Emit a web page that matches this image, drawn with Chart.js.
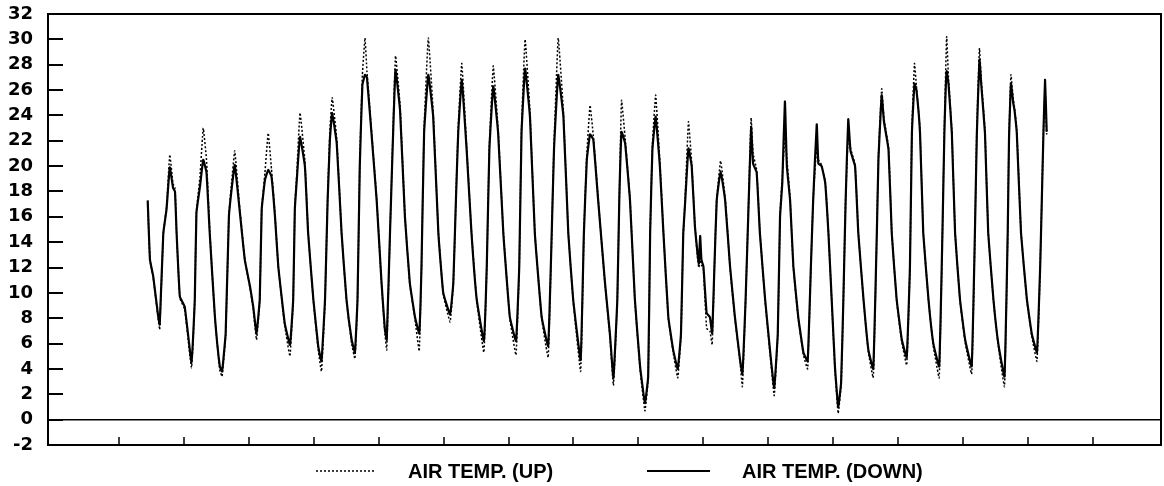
<!DOCTYPE html>
<html>
<head>
<meta charset="utf-8">
<title>Air temperature</title>
<script src="https://cdn.jsdelivr.net/npm/chart.js@4.4.1/dist/chart.umd.min.js"></script>
<style>
  html, body { margin: 0; padding: 0; background: #fff; }
  canvas { display: block; }
</style>
</head>
<body>
<canvas id="chart" width="1164" height="486"></canvas>
<script>
// Time in days, shared by both sensors
const timeDays = [
  2.89, 2.96, 3.06, 3.21, 3.26, 3.37, 3.47, 3.57, 3.67, 3.73, 3.78, 3.88, 4.03, 4.24,
  4.34, 4.39, 4.50, 4.60, 4.70, 4.80, 4.96, 5.11, 5.18,
  5.29, 5.39, 5.47, 5.57, 5.73, 5.88, 6.04, 6.14, 6.24,
  6.34, 6.40, 6.50, 6.60, 6.70, 6.81, 6.91, 7.11, 7.27,
  7.37, 7.42, 7.48, 7.58, 7.73, 7.83, 7.99, 8.14, 8.24,
  8.35, 8.43, 8.50, 8.57, 8.71, 8.86, 9.01, 9.17, 9.27,
  9.35, 9.42, 9.50, 9.58, 9.64, 9.78, 9.94, 10.09, 10.19, 10.25,
  10.35, 10.43, 10.52, 10.66, 10.81, 10.96, 11.12, 11.25,
  11.32, 11.40, 11.53, 11.68, 11.84, 11.99, 12.20,
  12.30, 12.38, 12.45, 12.56, 12.71, 12.86, 13.02, 13.24,
  13.33, 13.41, 13.53, 13.68, 13.84, 14.04, 14.23,
  14.33, 14.40, 14.51, 14.66, 14.81, 15.02, 15.22,
  15.33, 15.40, 15.53, 15.69, 15.84, 15.99, 16.22,
  16.32, 16.41, 16.51, 16.61, 16.76, 16.97, 17.12, 17.23,
  17.35, 17.41, 17.48, 17.59, 17.74, 17.89, 18.05, 18.20,
  18.30, 18.36, 18.43, 18.53, 18.66, 18.77, 18.92, 19.07, 19.21,
  19.31, 19.38, 19.43, 19.54, 19.64, 19.74, 19.82, 19.86, 19.90, 19.94, 20.00, 20.10, 20.20, 20.27,
  20.34, 20.41, 20.53, 20.67, 20.82, 20.97, 21.13, 21.20,
  21.30, 21.38, 21.47, 21.53, 21.64, 21.74, 21.90, 22.05, 22.18,
  22.29, 22.36, 22.43, 22.51, 22.57, 22.67, 22.77, 22.92, 23.08, 23.21,
  23.31, 23.38, 23.49, 23.54, 23.64, 23.75, 23.85, 23.95, 24.05, 24.15,
  24.24, 24.31, 24.38, 24.46, 24.53, 24.67, 24.77, 24.93, 25.08, 25.23,
  25.34, 25.39, 25.49, 25.56, 25.70, 25.80, 25.95, 26.11, 26.26,
  26.36, 26.42, 26.50, 26.56, 26.67, 26.77, 26.93, 27.08, 27.26,
  27.36, 27.42, 27.49, 27.55, 27.65, 27.75, 27.90, 28.06, 28.26,
  28.36, 28.42, 28.50, 28.56, 28.67, 28.77, 28.93, 29.08, 29.27,
  29.37, 29.41, 29.47, 29.54, 29.58, 29.65, 29.78, 29.96, 30.11, 30.27,
  30.37, 30.42, 30.47, 30.52, 30.57
];

// Air temperature, upper sensor (deg C)
const airTempUp = [
  17.1, 12.6, 11.2, 8.0, 7.1, 14.6, 16.8, 20.9, 18.6, 18.3, 14.7, 9.6, 8.7, 4.1,
  9.5, 16.4, 19.2, 23.0, 20.5, 14.9, 8.0, 3.9, 3.4,
  6.6, 16.1, 18.6, 21.2, 16.5, 12.6, 10.4, 8.7, 6.3,
  9.4, 16.6, 19.5, 22.6, 19.8, 16.1, 12.1, 7.4, 5.0,
  9.4, 16.7, 19.4, 24.2, 20.4, 14.8, 9.4, 5.5, 3.8,
  9.4, 17.5, 22.8, 25.4, 22.2, 14.7, 9.4, 6.0, 4.8,
  9.4, 20.3, 27.2, 30.1, 27.5, 22.8, 17.4, 10.7, 6.9, 5.5,
  14.6, 21.6, 28.7, 24.8, 16.1, 10.7, 7.9, 5.4,
  12.0, 23.0, 30.1, 24.3, 14.8, 9.9, 7.7,
  10.7, 17.4, 23.0, 28.1, 21.6, 14.8, 9.4, 5.3,
  12.0, 21.6, 27.9, 22.9, 14.8, 8.0, 5.1,
  12.0, 23.0, 30.0, 24.3, 14.8, 8.0, 4.9,
  14.6, 21.7, 30.1, 24.3, 14.8, 9.4, 3.8,
  14.6, 20.9, 24.8, 22.4, 17.4, 10.7, 6.6, 2.7,
  9.4, 17.4, 25.2, 22.2, 17.4, 9.4, 4.0, 0.7,
  3.2, 14.6, 21.7, 25.6, 20.3, 14.8, 8.0, 5.3, 3.3,
  6.6, 14.6, 17.0, 23.5, 20.3, 15.3, 12.7, 12.0, 12.6, 12.2, 11.9, 7.2, 7.0, 5.9,
  12.0, 17.4, 20.4, 17.5, 12.0, 8.0, 4.5, 2.6,
  9.4, 16.2, 23.8, 21.0, 19.7, 14.8, 9.4, 5.3, 1.9,
  6.6, 16.2, 19.2, 22.3, 20.6, 17.4, 12.0, 8.0, 5.1, 4.0,
  12.0, 17.4, 21.5, 20.5, 20.1, 18.8, 14.8, 9.4, 4.0, 0.5,
  2.7, 9.4, 17.4, 22.5, 21.4, 20.1, 14.8, 9.4, 5.3, 3.3,
  14.6, 20.9, 26.1, 23.8, 21.5, 14.8, 9.4, 6.1, 4.3,
  12.0, 23.0, 28.1, 26.3, 22.8, 14.8, 9.4, 5.8, 3.3,
  14.6, 23.0, 30.2, 26.8, 22.8, 14.8, 9.4, 6.1, 3.6,
  14.6, 23.0, 29.3, 26.6, 22.8, 14.8, 9.4, 5.8, 2.6,
  14.6, 22.5, 27.2, 25.3, 24.6, 22.8, 14.8, 9.4, 6.6, 4.6,
  12.0, 17.4, 22.8, 26.0, 22.5
];

// Air temperature, lower sensor (deg C)
const airTempDown = [
  17.3, 12.6, 11.3, 8.2, 7.5, 14.7, 16.6, 19.9, 18.3, 18.0, 14.7, 9.7, 8.9, 4.5,
  9.5, 16.3, 18.4, 20.5, 19.5, 14.7, 8.1, 4.2, 3.8,
  6.8, 16.0, 18.1, 20.1, 16.3, 12.6, 10.5, 8.9, 6.8,
  9.5, 16.6, 18.9, 19.7, 19.2, 16.0, 12.1, 7.6, 5.9,
  9.5, 16.6, 18.9, 22.3, 20.0, 14.7, 9.5, 5.8, 4.6,
  9.5, 17.3, 22.1, 24.2, 21.8, 14.7, 9.5, 6.3, 5.3,
  9.5, 20.0, 26.4, 27.2, 27.0, 22.6, 17.3, 10.8, 7.2, 6.3,
  14.7, 21.3, 27.6, 24.4, 16.0, 10.8, 8.1, 6.8,
  12.1, 22.6, 27.2, 23.9, 14.7, 10.0, 8.3,
  10.8, 17.3, 22.6, 26.8, 21.3, 14.7, 9.5, 6.2,
  12.1, 21.3, 26.3, 22.6, 14.7, 8.1, 6.2,
  12.1, 22.6, 27.7, 23.9, 14.7, 8.1, 5.8,
  14.7, 21.3, 27.2, 23.9, 14.7, 9.5, 4.7,
  14.7, 20.5, 22.5, 22.1, 17.3, 10.8, 6.8, 3.3,
  9.5, 17.3, 22.7, 21.8, 17.3, 9.5, 4.2, 1.3,
  3.4, 14.7, 21.3, 23.9, 20.0, 14.7, 8.1, 5.5, 4.0,
  6.8, 14.7, 16.8, 21.4, 20.0, 15.2, 13.1, 12.3, 14.5, 12.6, 12.1, 8.4, 8.1, 6.8,
  12.1, 17.3, 19.6, 17.3, 12.1, 8.1, 4.7, 3.6,
  9.5, 16.0, 23.1, 20.2, 19.5, 14.7, 9.5, 5.5, 2.5,
  6.8, 16.0, 18.7, 25.1, 20.0, 17.3, 12.1, 8.1, 5.3, 4.6,
  12.1, 17.3, 23.3, 20.2, 20.0, 18.7, 14.7, 9.5, 4.2, 1.0,
  2.9, 9.5, 17.3, 23.7, 21.2, 20.0, 14.7, 9.5, 5.5, 4.0,
  14.7, 20.5, 25.6, 23.5, 21.3, 14.7, 9.5, 6.3, 4.9,
  12.1, 22.6, 26.5, 26.0, 22.6, 14.7, 9.5, 6.0, 4.2,
  14.7, 22.6, 27.5, 26.4, 22.6, 14.7, 9.5, 6.3, 4.2,
  14.7, 22.6, 28.4, 26.3, 22.6, 14.7, 9.5, 6.0, 3.4,
  14.7, 22.1, 26.5, 25.0, 24.4, 22.6, 14.7, 9.5, 6.8, 5.3,
  12.1, 17.3, 22.6, 26.8, 22.7
];

const seriesLabels = ['AIR TEMP. (UP)', 'AIR TEMP. (DOWN)'];
const yTickValues = [-2, 0, 2, 4, 6, 8, 10, 12, 14, 16, 18, 20, 22, 24, 26, 28, 30, 32];
const xTickDays = [2, 4, 6, 8, 10, 12, 14, 16, 18, 20, 22, 24, 26, 28, 30, 32];

const toPoints = vals => timeDays.map((t, i) => ({ x: t, y: vals[i] }));

// Frame, inward tick marks and a horizontal key below the plot
const frameAndKey = {
  id: 'frameAndKey',
  afterDraw(chart, args, opts) {
    const { ctx, chartArea: a, scales: { x, y } } = chart;
    ctx.save();
    ctx.strokeStyle = '#000';
    ctx.lineCap = 'butt';

    ctx.lineWidth = 2;
    y.ticks.forEach(t => {
      const py = Math.round(y.getPixelForValue(t.value));
      ctx.beginPath();
      ctx.moveTo(a.left, py);
      ctx.lineTo(a.left + 15, py);
      ctx.stroke();
    });

    ctx.lineWidth = 1.5;
    x.ticks.forEach(t => {
      const px = Math.round(x.getPixelForValue(t.value));
      ctx.beginPath();
      ctx.moveTo(px, a.bottom);
      ctx.lineTo(px, a.bottom - 8);
      ctx.stroke();
    });

    ctx.lineWidth = 2;
    ctx.strokeRect(a.left, a.top, a.right - a.left, a.bottom - a.top);

    // key entries
    ctx.font = 'bold 20px "Liberation Sans", Arial, sans-serif';
    ctx.fillStyle = '#000';
    ctx.textBaseline = 'middle';
    ctx.textAlign = 'left';
    chart.data.datasets.forEach((ds, i) => {
      const item = opts.items[i];
      ctx.save();
      ctx.lineWidth = ds.borderWidth;
      ctx.setLineDash(ds.borderDash || []);
      ctx.beginPath();
      ctx.moveTo(item.lineFrom, opts.y);
      ctx.lineTo(item.lineTo, opts.y);
      ctx.stroke();
      ctx.restore();
      ctx.fillText(ds.label, item.textX, opts.y + 1);
    });
    ctx.restore();
  }
};

new Chart(document.getElementById('chart'), {
  type: 'line',
  data: {
    datasets: [
      {
        label: seriesLabels[0],
        data: toPoints(airTempUp),
        borderColor: '#000',
        borderWidth: 1.5,
        borderDash: [2, 2],
        pointRadius: 0,
        fill: false,
        tension: 0.1
      },
      {
        label: seriesLabels[1],
        data: toPoints(airTempDown),
        borderColor: '#000',
        borderWidth: 2.2,
        borderDash: [],
        pointRadius: 0,
        fill: false,
        tension: 0.1
      }
    ]
  },
  options: {
    responsive: false,
    animation: false,
    devicePixelRatio: 1,
    layout: { padding: { top: 14, right: 3, bottom: 0, left: 0 } },
    plugins: {
      legend: { display: false },
      tooltip: { enabled: false },
      frameAndKey: {
        y: 471,
        items: [
          { lineFrom: 316, lineTo: 375, textX: 408 },
          { lineFrom: 647, lineTo: 710, textX: 742 }
        ]
      }
    },
    scales: {
      x: {
        type: 'linear',
        min: -0.18,
        max: 34.09,
        afterBuildTicks: s => { s.ticks = xTickDays.map(v => ({ value: v })); },
        afterFit: s => { s.height = 41; },
        ticks: { display: false },
        grid: { display: false, drawTicks: false },
        border: { display: false }
      },
      y: {
        type: 'linear',
        min: -2,
        max: 32,
        afterBuildTicks: s => { s.ticks = yTickValues.map(v => ({ value: v })); },
        afterFit: s => { s.width = 48; s.paddingTop = 0; s.paddingBottom = 0; },
        ticks: {
          padding: 15,
          color: '#000',
          font: { family: '"DejaVu Sans", sans-serif', weight: 'bold', size: 18 }
        },
        grid: {
          drawTicks: false,
          color: c => (c.tick && c.tick.value === 0 ? '#000' : 'rgba(0,0,0,0)'),
          lineWidth: 1.5
        },
        border: { display: false }
      }
    }
  },
  plugins: [frameAndKey]
});
</script>
</body>
</html>
